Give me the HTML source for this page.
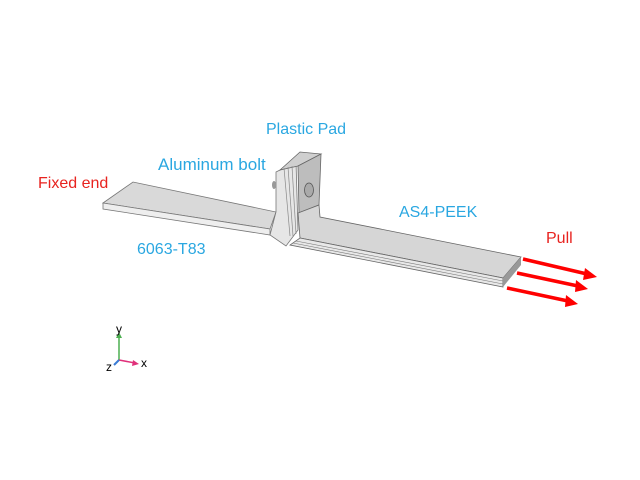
<!DOCTYPE html>
<html><head><style>
body{margin:0;width:640px;height:480px;background:#fff;overflow:hidden;position:relative;font-family:"Liberation Sans",sans-serif}
.t{position:absolute;font-size:16px;white-space:nowrap}
.b{color:#2aa7e1}.r{color:#e8231f}
</style></head><body>
<svg width="640" height="480" style="position:absolute;left:0;top:0">
<!-- left plate -->
<polygon points="103,203 133,182 276,212 270,229" fill="#d9d9d9" stroke="#777" stroke-width="0.8"/>
<polygon points="103,203 270,229 270,235 103,209" fill="#eee" stroke="#777" stroke-width="0.8"/>
<!-- vertical part -->
<polygon points="276,172 296,162 298,230 286,246 270,235 276,212" fill="#e6e6e6" stroke="#777" stroke-width="0.8"/>
<!-- pad -->
<polygon points="280,170 300,152 321,154 298,166" fill="#cfcfcf" stroke="#666" stroke-width="0.8"/>
<polygon points="298,166 321,154 319,205 299,213" fill="#bdbdbd" stroke="#666" stroke-width="0.8"/>
<line x1="284" y1="168" x2="290" y2="236" stroke="#888" stroke-width="0.7"/>
<line x1="288" y1="167" x2="293" y2="236" stroke="#888" stroke-width="0.7"/>
<line x1="292" y1="166" x2="296" y2="234" stroke="#888" stroke-width="0.7"/>
<ellipse cx="309" cy="190" rx="4.5" ry="7" fill="#aaa" stroke="#555" stroke-width="0.8"/>
<ellipse cx="274" cy="185" rx="2" ry="4" fill="#999"/>
<!-- right plate -->
<polygon points="298,213 319,205 320,217 521,257 503,278 300,238" fill="#d6d6d6" stroke="#666" stroke-width="0.8"/>
<polygon points="300,238 503,278 503,287 290,245" fill="#e8e8e8" stroke="#666" stroke-width="0.8"/>
<line x1="296" y1="241" x2="503" y2="281" stroke="#777" stroke-width="0.6"/>
<line x1="293" y1="243" x2="503" y2="284" stroke="#777" stroke-width="0.6"/>
<polygon points="503,278 521,257 521,265 503,287" fill="#999"/>
<!-- arrows -->
<g stroke="#f00" stroke-width="3.5" fill="#f00">
<line x1="523" y1="259" x2="587" y2="274"/><line x1="517" y1="273" x2="578" y2="286"/><line x1="507" y1="288" x2="568" y2="301"/>
</g>
<g fill="#f00">
<polygon points="597,277 585,268 583,280"/><polygon points="588,289 576,280 575,292"/><polygon points="578,304 566,295 565,307"/>
</g>
<!-- axes -->
<line x1="119" y1="360" x2="119" y2="336" stroke="#4caf50" stroke-width="1.5"/>
<polygon points="119,332 116,338 122,338" fill="#4caf50"/>
<line x1="119" y1="360" x2="135" y2="363" stroke="#e0307a" stroke-width="1.5"/>
<polygon points="139,364 133,360 132,366" fill="#e0307a"/>
<line x1="119" y1="360" x2="114" y2="365" stroke="#3a7bd5" stroke-width="2"/>
</svg>
<div class="t r" style="left:38px;top:175px">Fixed end</div>
<div class="t b" style="left:158px;top:155px;font-size:17px">Aluminum bolt</div>
<div class="t b" style="left:266px;top:121px">Plastic Pad</div>
<div class="t b" style="left:137px;top:241px">6063-T83</div>
<div class="t b" style="left:399px;top:204px">AS4-PEEK</div>
<div class="t r" style="left:546px;top:230px">Pull</div>
<div class="t" style="left:116px;top:322px;font-size:12px">y</div>
<div class="t" style="left:141px;top:356px;font-size:12px">x</div>
<div class="t" style="left:106px;top:360px;font-size:12px">z</div>
</body></html>
